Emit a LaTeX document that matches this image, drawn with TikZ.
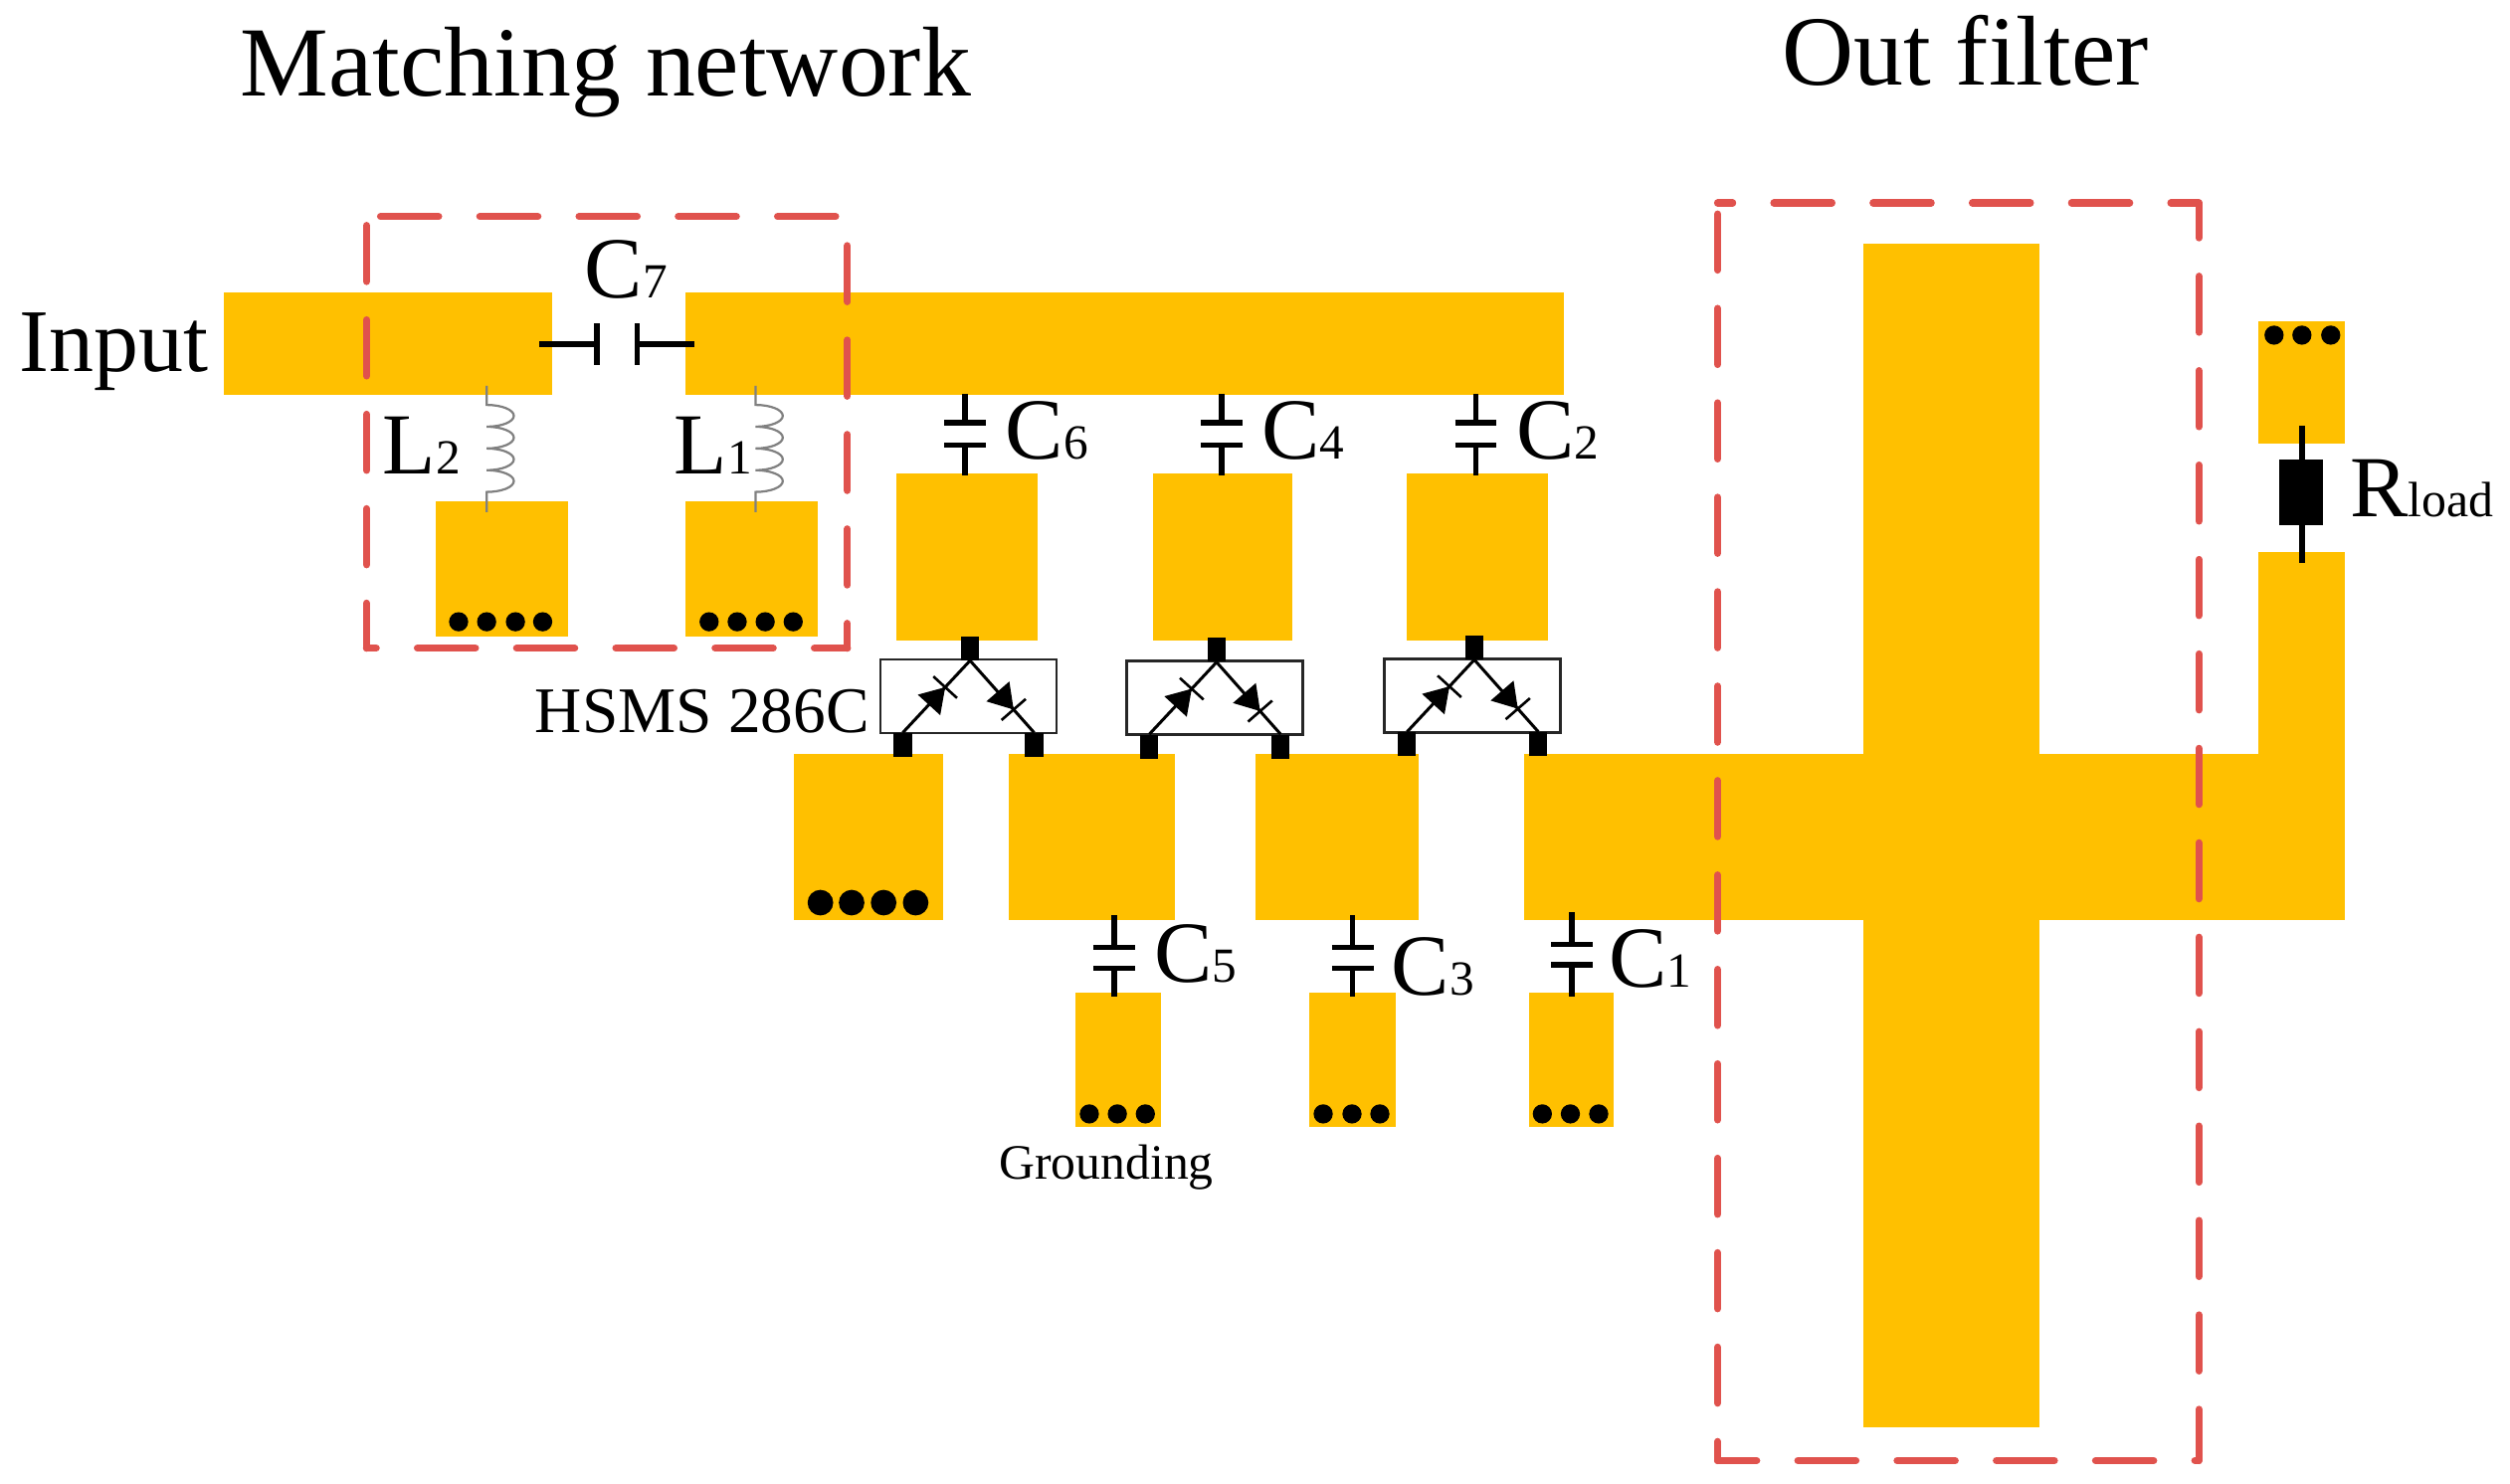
\documentclass[tikz,border=0pt]{standalone}
\usepackage{fontspec}
\setmainfont{Liberation Serif}
\usetikzlibrary{fit,calc}

\definecolor{padc}{HTML}{FFC000}
\definecolor{dashc}{HTML}{E0524D}
\newcommand{\subn}[1]{{\fontsize{24.5}{26}\selectfont #1}}
% row of via dots: name, y, list of x
\newcommand{\viarow}[3]{\foreach \vx [count=\vi] in {#3} {\node[via] (#1\vi) at (\vx,#2) {};}}

\tikzset{
  pad/.style={fill=padc,inner sep=0,outer sep=0},
  via/.style={circle,fill=black,inner sep=0,minimum size=9.6pt},
  contact/.style={fill=black,inner sep=0,minimum width=9pt,minimum height=12pt},
  diodebox/.style={draw=black!85,line width=1.4pt,fill=white,inner sep=0,outer sep=0},
  dashh/.style={draw=dashc,line width=3.6pt,line cap=round,dash pattern=on 29pt off 20.6pt},
  dashv/.style={draw=dashc,line width=3.6pt,line cap=round,dash pattern=on 28pt off 19.2pt},
  lead/.style={line width=2.8pt,black},
  coilline/.style={line width=1.1pt,black!50},
  lab/.style={inner sep=0,anchor=base west,font=\fontsize{43.5}{45}\selectfont},
  diode/.pic={
    \fill (-15,-9.5) -- (-15,9.5) -- (0,0) -- cycle;
    \draw[line width=1.3pt] (0,-10) -- (0,10);
  }
}

\begin{document}
\begin{tikzpicture}[x=0.8pt,y=-0.8pt]
\useasboundingbox (0,0) rectangle (1568,927.2);

% pads
\node[pad,fit={(140,183)(345,247)}] (inl) {};
\node[pad,fit={(428,183)(977,247)}] (inr) {};
\node[pad,fit={(272,313)(355,398)}] (pl2) {};
\node[pad,fit={(428,313)(511,398)}] (pl1) {};
\node[pad,fit={(560,296)(648,400)}] (pc6) {};
\node[pad,fit={(720,296)(807,400)}] (pc4) {};
\node[pad,fit={(879,296)(967,400)}] (pc2) {};
\node[pad,fit={(496,471)(589,575)}] (gnd) {};
\node[pad,fit={(630,471)(734,575)}] (m1) {};
\node[pad,fit={(784,471)(886,575)}] (m2) {};
\node[pad,fit={(952,471)(1465,575)}] (main) {};
\node[pad,fit={(1164,152)(1274,892)}] (filt) {};
\node[pad,fit={(1411,345)(1465,575)}] (rise) {};
\node[pad,fit={(1411,201)(1465,277)}] (rpad) {};
\node[pad,fit={(672,620)(725,704)}] (s5) {};
\node[pad,fit={(818,620)(872,704)}] (s3) {};
\node[pad,fit={(955,620)(1008,704)}] (s1) {};

% vias
\viarow{va}{388.5}{286.5,304,322,339}
\viarow{vb}{388.5}{443,460.5,478,495.5}
\viarow{vc}{209.4}{1420.6,1438,1456}
\viarow{vd}{696}{680.5,698,715.5}
\viarow{ve}{696}{826.6,844.6,862}
\viarow{vf}{696}{963.5,981,998.7}
\foreach \vx [count=\vi] in {512.5,532,552,572} {\node[via,minimum size=12.8pt] (vg\vi) at (\vx,564) {};}

% dashed frames, one path per side so the dashes land where they should
\foreach \n/\xa/\xb/\ya/\yb/\pb/\pt/\pl/\pr in {
    a/229/529.4/135.3/405/24.2/42.6/5.5/15.6,
    b/1073/1373.6/126.8/912.6/9.5/21.5/18.5/2.4} {
  \coordinate (\n bl) at (\xa,\yb);
  \coordinate (\n br) at (\xb,\yb);
  \coordinate (\n tl) at (\xa,\ya);
  \coordinate (\n tr) at (\xb,\ya);
  \draw[dashh,dash phase=\pb pt] (\n bl) -- (\n br);
  \draw[dashh,dash phase=\pt pt] (\n tl) -- (\n tr);
  \draw[dashv,dash phase=\pl pt] (\n bl) -- (\n tl);
  \draw[dashv,dash phase=\pr pt] (\n br) -- (\n tr);
}

% diode packages
\foreach \i/\bx/\by in {1/550/412,2/704/413,3/865/411.5} {
  \node[diodebox,fit={(\bx,\by)({\bx+110},{\by+46})}] (pk\i) {};
  \node[contact] (ct\i) at ({\bx+56},{\by-7}) {};
  \node[contact] (cl\i) at ({\bx+14},{\by+53.5}) {};
  \node[contact] (cr\i) at ({\bx+96},{\by+53.5}) {};
  \draw[line width=1.5pt] (ct\i.south) -- (cl\i.north);
  \draw[line width=1.5pt] (ct\i.south) -- (cr\i.north);
  \pic[rotate=47.6] at ($(cl\i.north)!0.63!(ct\i.south)$) {diode};
  \pic[rotate=-49] at ($(ct\i.south)!0.68!(cr\i.north)$) {diode};
}

% vertical capacitors: name/x/top/plate1/plate2/bottom
\foreach \n/\x/\a/\b/\c/\d in {c6/603/246/264/278/297,c4/763/246/264/278/297,c2/922/246/264/278/297,
                               c5/696/572/592/605/623,c3/845/572/592/605/623,c1/982/570/590/603/623} {
  \coordinate (\n a) at (\x,\a);
  \coordinate (\n b) at (\x,\b);
  \coordinate (\n c) at (\x,\c);
  \coordinate (\n d) at (\x,\d);
  \draw[lead] (\n a) -- (\n b);
  \draw[lead] (\n c) -- (\n d);
  \draw[lead] ($(\n b)+(-13,0)$) -- ($(\n b)+(13,0)$);
  \draw[lead] ($(\n c)+(-13,0)$) -- ($(\n c)+(13,0)$);
}

% C7
\coordinate (c7a) at (337,215);
\coordinate (c7b) at (373,215);
\coordinate (c7c) at (398,215);
\coordinate (c7d) at (434,215);
\draw[lead] (c7a) -- (c7b);
\draw[lead] (c7c) -- (c7d);
\draw[lead] ($(c7b)+(0,-13)$) -- ($(c7b)+(0,13)$);
\draw[lead] ($(c7c)+(0,-13)$) -- ($(c7c)+(0,13)$);

% inductors
\foreach \n/\x in {l2/304,l1/472} {
  \coordinate (\n a) at (\x,241);
  \coordinate (\n b) at (\x,320);
  \draw[coilline] (\n a) -- ++(0,12)
    arc[start angle=-90,end angle=90,x radius=17,y radius=6.8]
    arc[start angle=-90,end angle=90,x radius=17,y radius=6.8]
    arc[start angle=-90,end angle=90,x radius=17,y radius=6.8]
    arc[start angle=-90,end angle=90,x radius=17,y radius=6.8]
    -- (\n b);
}

% load resistor
\coordinate (ra) at (1438,266);
\coordinate (rb) at (1438,352);
\draw[lead,line width=3pt] (ra) -- (rb);
\node[fill=black,inner sep=0,outer sep=0,fit={(1424,287)(1451,328)}] (rl) {};

% labels
\node[inner sep=0,anchor=base west,font=\fontsize{49.6}{52}\selectfont] (t1) at (150,60) {Matching network};
\node[inner sep=0,anchor=base west,font=\fontsize{49.6}{52}\selectfont] (t2) at (1113,53) {Out filter};
\node[inner sep=0,anchor=base west,font=\fontsize{44.7}{47}\selectfont] (t3) at (12,232) {Input};
\node[inner sep=0,anchor=base west,font=\fontsize{32.5}{34}\selectfont] (t4) at (334,458) {HSMS 286C};
\node[inner sep=0,anchor=base west,font=\fontsize{24.7}{26}\selectfont] (t5) at (624,737) {Grounding};
\node[lab] (lc7) at (365,186) {C\subn{7}};
\node[lab] (ll2) at (239,296) {L\subn{2}};
\node[lab] (ll1) at (421,296) {L\subn{1}};
\node[lab] (lc6) at (628,287) {C\subn{6}};
\node[lab] (lc4) at (788,287) {C\subn{4}};
\node[lab] (lc2) at (947,287) {C\subn{2}};
\node[lab] (lc5) at (721,614) {C\subn{5}};
\node[lab] (lc3) at (869,622) {C\subn{3}};
\node[lab] (lc1) at (1005,617) {C\subn{1}};
\node[lab] (lr) at (1468,323) {R{\fontsize{24.8}{27}\selectfont load}};

\end{tikzpicture}
\end{document}
